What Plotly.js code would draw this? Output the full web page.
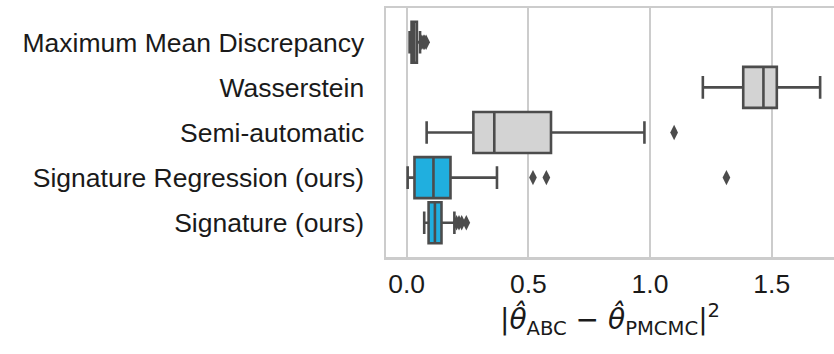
<!DOCTYPE html>
<html>
<head>
<meta charset="utf-8">
<script src="https://cdn.plot.ly/plotly-3.0.1.min.js"></script>
<style>html,body{margin:0;padding:0;background:#fff;}#chart{width:834px;height:354px;}</style>
</head>
<body>
<div id="chart"></div>
<script>
// Categories (top to bottom)
const categories = ["Maximum Mean Discrepancy", "Wasserstein", "Semi-automatic", "Signature Regression (ours)", "Signature (ours)"];
const isOurs = [false, false, false, true, true];
// Box statistics
const lowerFence = [0.012, 1.217, 0.082, 0.004, 0.072];
const q1 = [0.020, 1.383, 0.274, 0.032, 0.090];
const median = [0.030, 1.466, 0.360, 0.110, 0.116];
const q3 = [0.042, 1.521, 0.593, 0.180, 0.143];
const upperFence = [0.055, 1.699, 0.977, 0.371, 0.196];
// Outliers
const outlierCategory = ["Maximum Mean Discrepancy", "Maximum Mean Discrepancy", "Maximum Mean Discrepancy", "Maximum Mean Discrepancy",
  "Semi-automatic", "Signature Regression (ours)", "Signature Regression (ours)", "Signature Regression (ours)",
  "Signature (ours)", "Signature (ours)", "Signature (ours)", "Signature (ours)"];
const outlierValue = [0.062, 0.068, 0.074, 0.080, 1.099, 0.519, 0.574, 1.314, 0.205, 0.215, 0.226, 0.245];
const xTicks = [0, 0.5, 1.0, 1.5];
const xTickText = ["0.0", "0.5", "1.0", "1.5"];

const lineColor = "#4c4c4c";
const grayFill = "#d3d3d3";
const blueFill = "#20afdf";

function pick(arr, flag) { return arr.filter((_, i) => isOurs[i] === flag); }
function boxTrace(flag, fill) {
  return {
    type: "box", orientation: "h",
    y: pick(categories, flag),
    q1: pick(q1, flag), median: pick(median, flag), q3: pick(q3, flag),
    lowerfence: pick(lowerFence, flag), upperfence: pick(upperFence, flag),
    fillcolor: fill, line: {color: lineColor, width: 2.6},
    whiskerwidth: 0.55, width: 0.91, boxpoints: false,
    hoverinfo: "skip", showlegend: false
  };
}
const traces = [
  boxTrace(false, grayFill),
  boxTrace(true, blueFill),
  {
    type: "scatter", mode: "markers", x: outlierValue, y: outlierCategory,
    marker: {symbol: "diamond-tall", size: 11, color: lineColor, line: {width: 0}},
    showlegend: false, hoverinfo: "skip"
  }
];
const font = "Liberation Sans, Arial, sans-serif";
const layout = {
  width: 834, height: 354,
  margin: {l: 386, r: 0, t: 8, b: 97},
  paper_bgcolor: "#fff", plot_bgcolor: "#fff",
  font: {family: font, size: 26.5, color: "#1a1a1a"},
  boxmode: "overlay",
  xaxis: {
    range: [-0.085, 1.756], tickvals: xTicks, ticktext: xTickText,
    showgrid: true, gridcolor: "#cccccc", gridwidth: 2,
    zeroline: false, showline: true, mirror: true, linecolor: "#cccccc", linewidth: 2.5,
    ticks: "", ticklabelstandoff: 2,
    tickfont: {family: font, size: 26.5, color: "#1a1a1a"},
    title: {text: "|<i>θ̂</i><sub>ABC</sub> − <i>θ̂</i><sub>PMCMC</sub>|<sup>2</sup>", font: {family: "DejaVu Sans, sans-serif", size: 28, color: "#1a1a1a"}, standoff: 10}
  },
  yaxis: {
    type: "category", categoryorder: "array", categoryarray: categories,
    range: [4.76, -0.76],
    showgrid: false, zeroline: false, showline: true, mirror: false,
    linecolor: "#cccccc", linewidth: 2.5,
    ticks: "", ticklabelstandoff: 14,
    tickfont: {family: font, size: 26.5, color: "#1a1a1a"}
  }
};
Plotly.newPlot("chart", traces, layout, {staticPlot: true, displayModeBar: false});
</script>
</body>
</html>
